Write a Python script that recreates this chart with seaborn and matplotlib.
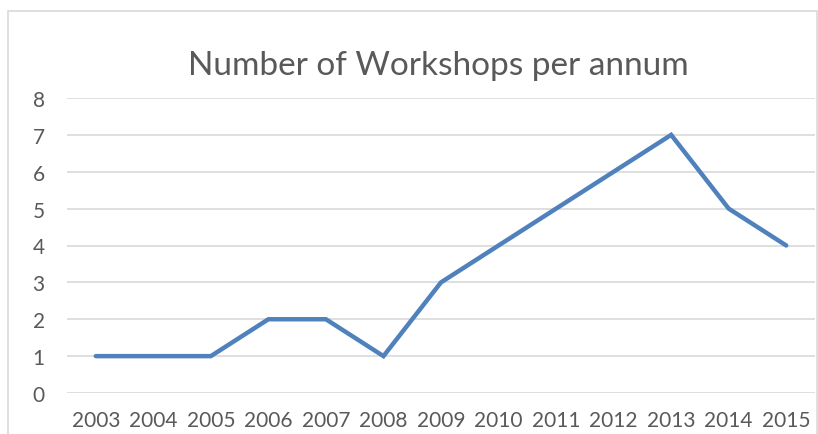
import matplotlib
matplotlib.use("Agg")
import matplotlib.pyplot as plt
import seaborn as sns
import pandas as pd
from matplotlib.patches import Rectangle

years = ["2003", "2004", "2005", "2006", "2007", "2008", "2009",
         "2010", "2011", "2012", "2013", "2014", "2015"]
workshops = [1, 1, 1, 2, 2, 1, 3, 4, 5, 6, 7, 5, 4]
y_ticks = [0, 1, 2, 3, 4, 5, 6, 7, 8]

sns.set_theme(style="white")
plt.rcParams['font.family'] = ['Lato', 'DejaVu Sans']

W, H = 818, 435
fig = plt.figure(figsize=(W / 100, H / 100), dpi=100)
ax = fig.add_axes([67 / W, 1 - 394 / H, (815 - 67) / W, (394 - 99) / H])

df = pd.DataFrame({"pos": range(len(years)), "value": workshops})
sns.lineplot(data=df, x="pos", y="value", ax=ax, color="#4F81BD",
             linewidth=3.2, solid_joinstyle="miter")

ax.set_xlim(-0.5, len(years) - 0.5)
ax.set_ylim(0, 8)
ax.set_yticks(y_ticks)
ax.set_xticks(range(len(years)))
ax.set_xticklabels(years)
ax.set_xlabel("")
ax.set_ylabel("")
for s in ax.spines.values():
    s.set_visible(False)
ax.grid(axis="y", color="#D9D9D9", linewidth=1.2)
ax.set_axisbelow(True)
ax.tick_params(axis="both", length=0, labelsize=15, colors="#595959")
ax.tick_params(axis="y", pad=16)
ax.tick_params(axis="x", pad=12)

fig.text(438 / W, 1 - 66 / H, "Number of Workshops per annum",
         ha="center", va="center", fontsize=24, color="#595959")

fig.patches.append(Rectangle((8 / W, -0.1), (817 - 8) / W, 1.1 - 12 / H,
                             transform=fig.transFigure, fill=False,
                             edgecolor="#D9D9D9", linewidth=1.2))

fig.savefig("out.png", dpi=100, facecolor="white")
